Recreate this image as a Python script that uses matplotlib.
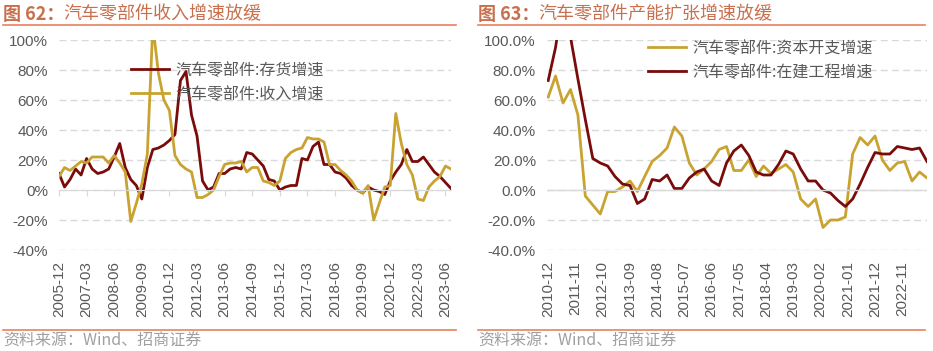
import matplotlib
matplotlib.use('Agg')
import matplotlib.pyplot as plt
import matplotlib.ticker as mtick
from matplotlib.lines import Line2D
import numpy as np
import pandas as pd

CJK = ['Noto Sans CJK SC', 'DejaVu Sans']
plt.rcParams['font.family'] = ['Liberation Sans', 'Noto Sans CJK SC', 'DejaVu Sans']

RED = '#7A0B0B'
GOLD = '#C9A331'
GRID = '#D9D9D9'
TICK_C = '#595959'
TITLE_C = '#C8704E'
RULE_C = '#E8825E'

# 图62: quarterly, 2005-12 .. 2023-09 (%)
left_labels = list(pd.date_range('2005-12-01', periods=72, freq='3MS').strftime('%Y-%m'))
inventory_growth = [11, 2, 7, 14, 10, 21, 14, 11, 12, 14,
                    22, 31, 15, 7, 3, -6, 15, 27, 28, 30,
                    33, 37, 73, 79, 50, 36, 6, 0, 2, 11,
                    11, 14, 15, 14, 25, 24, 20, 16, 7, 6,
                    0, 2, 3, 3, 21, 20, 29, 32, 17, 17,
                    12, 11, 8, 3, 0, -2, 2, 0, -1, -3,
                    6, 12, 17, 27, 19, 19, 22, 17, 12, 9,
                    5, 1]
revenue_growth = [9, 15, 13, 16, 19, 18, 22, 22, 22, 18,
                  23, 18, 12, -21, -9, 4, 24, 110, 78, 60,
                  53, 23, 17, 14, 12, -5, -5, -3, 0, 9,
                  17, 18, 18, 19, 12, 15, 15, 6, 5, 3,
                  6, 21, 25, 27, 28, 35, 34, 34, 32, 17,
                  17, 13, 10, 6, 0, -2, 3, -20, -9, 2,
                  3, 51, 31, 17, 10, -6, -7, 2, 6, 9,
                  16, 14]

# 图63: quarterly, 2010-12 .. 2023-09 (%)
right_dates = pd.date_range('2010-12-01', periods=52, freq='3MS')
right_ticks = pd.date_range('2010-12-01', '2023-09-01', freq='11MS')
capex_growth = [62, 76, 58, 67, 50, -4, -10, -16, -1, -1,
                2, 6, -1, 9, 19, 23, 28, 42, 36, 18,
                10, 14, 19, 27, 29, 13, 13, 20, 9, 16,
                11, 14, 17, 12, -6, -11, -6, -25, -20, -20,
                -18, 24, 35, 30, 36, 20, 13, 18, 19, 6,
                12, 8]
cip_growth = [73, 95, 128, 102, 74, 47, 21, 18, 16, 9,
              4, 3, -9, -6, 7, 6, 10, 1, 1, 8,
              12, 14, 6, 3, 18, 26, 30, 23, 12, 10,
              10, 17, 26, 24, 14, 6, 6, 0, -2, -7,
              -11, -6, 4, 15, 25, 24, 24, 29, 28, 27,
              28, 19]

W, H = 933, 351
fig = plt.figure(figsize=(W / 100, H / 100), dpi=100)
ax1 = fig.add_axes([59 / W, 1 - 250 / H, 392 / W, 210 / H])
ax2 = fig.add_axes([547 / W, 1 - 250 / H, 380 / W, 210 / H])


def style_y(ax, fmt):
    ax.set_ylim(-40, 100)
    ax.set_yticks(range(-40, 101, 20))
    ax.yaxis.set_major_formatter(mtick.FuncFormatter(lambda v, p: fmt.format(v)))
    ax.yaxis.grid(True, linestyle=(0, (5, 3)), color=GRID, lw=1)
    ax.set_axisbelow(True)
    ax.tick_params(axis='y', length=0, pad=8, labelsize=11, labelcolor=TICK_C)
    for s in ['left', 'right', 'top']:
        ax.spines[s].set_visible(False)


# left chart
x = np.arange(len(left_labels))
ax1.plot(x, inventory_growth, color=RED, lw=2, label='汽车零部件:存货增速')
ax1.plot(x, revenue_growth, color=GOLD, lw=2, label='汽车零部件:收入增速')
ax1.set_xlim(0, len(x) - 1)
style_y(ax1, '{:.0f}%')
ax1.spines['bottom'].set_position(('data', 0))
ax1.spines['bottom'].set_color(GRID)
ax1.set_xticks(x[::5])
ax1.tick_params(axis='x', length=4, color=GRID, labelbottom=False)
sec = ax1.secondary_xaxis(0)
sec.set_xticks(x[::5])
sec.set_xticklabels(left_labels[::5], rotation=90)
sec.tick_params(length=0, pad=8, labelsize=11, labelcolor=TICK_C)
sec.spines['bottom'].set_visible(False)
ax1.legend(loc='upper left', bbox_to_anchor=((131 - 59) / 392, 0.895), frameon=False,
           prop={'family': CJK, 'size': 11.5}, labelcolor=TICK_C, handlelength=2.4,
           handletextpad=0.4, labelspacing=0.42, borderpad=0, borderaxespad=0)

# right chart
ax2.plot(right_dates, capex_growth, color=GOLD, lw=2, label='汽车零部件:资本开支增速')
ax2.plot(right_dates, cip_growth, color=RED, lw=2, label='汽车零部件:在建工程增速')
ax2.set_xlim(right_dates[0] - pd.Timedelta(days=15), right_dates[-1])
style_y(ax2, '{:.1f}%')
ax2.spines['bottom'].set_visible(False)
ax2.axhline(0, color=GRID, lw=1)
ax2.set_xticks(right_ticks)
ax2.set_xticklabels(right_ticks.strftime('%Y-%m'), rotation=90)
ax2.tick_params(axis='x', length=0, pad=8, labelsize=11, labelcolor=TICK_C)
ax2.legend(loc='upper left', bbox_to_anchor=((648 - 547) / 380, 1.0), frameon=False,
           prop={'family': CJK, 'size': 11.5}, labelcolor=TICK_C, handlelength=2.4,
           handletextpad=0.4, labelspacing=0.42, borderpad=0, borderaxespad=0)

# titles, rules and source
for x0, x1, num, title in [(3, 456, '图 62：', '汽车零部件收入增速放缓'),
                           (478, 925, '图 63：', '汽车零部件产能扩张增速放缓')]:
    fig.text(x0 / W, 1 - 14 / H, num, fontsize=13, fontweight='bold',
             color=TITLE_C, family=CJK, va='center', ha='left')
    fig.text((x0 + 60) / W, 1 - 14 / H, title, fontsize=13,
             color=TITLE_C, family=CJK, va='center', ha='left')
    fig.add_artist(Line2D([x0 / W, x1 / W], [1 - 25 / H] * 2, color=RULE_C, lw=1.2))
    fig.add_artist(Line2D([x0 / W, x1 / W], [1 - 330 / H] * 2, color=RULE_C, lw=1.2))
    fig.text(x0 / W, 1 - 341 / H, '资料来源：Wind、招商证券', fontsize=11.5,
             color='#A0A0A0', family=CJK, va='center', ha='left')

fig.savefig('out.png', dpi=100)
